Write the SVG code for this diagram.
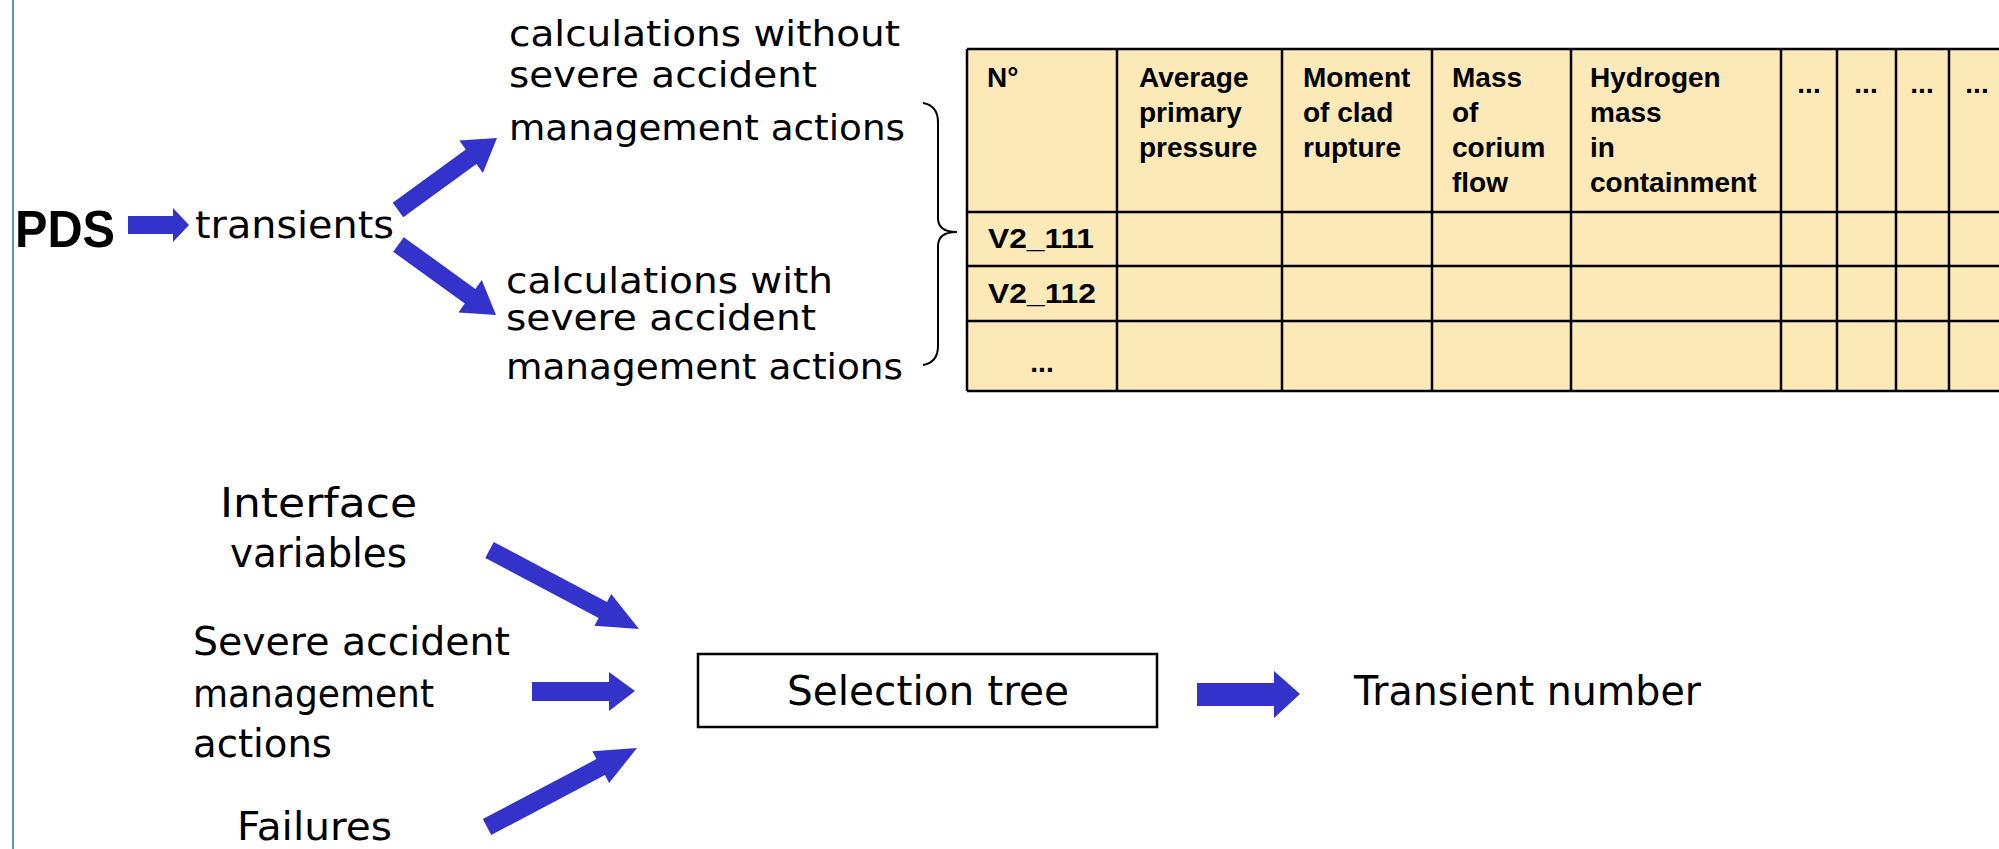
<svg xmlns="http://www.w3.org/2000/svg" width="1999" height="849" viewBox="0 0 1999 849">
<style>
.t{font-family:"DejaVu Sans","Liberation Sans",sans-serif;fill:#000;}
.tb{font-family:"Liberation Sans",Arial,sans-serif;font-weight:bold;fill:#000;}
.h{font-family:"Liberation Sans",Arial,sans-serif;font-weight:bold;font-size:28px;fill:#000;}
.arr{fill:#3333CC;stroke:none;}
.grid{stroke:#000;stroke-width:2.5;fill:none;}
</style>
<rect x="0" y="0" width="1999" height="849" fill="#fff"/>
<line x1="13" y1="0" x2="13" y2="849" stroke="#5B8DD9" stroke-width="2"/>

<g id="node-pds">
<text class="tb" x="15" y="247" font-size="52" textLength="100" lengthAdjust="spacingAndGlyphs">PDS</text>
</g>
<g id="node-transients">
<text class="t" x="195" y="238" font-size="38" textLength="199" lengthAdjust="spacingAndGlyphs">transients</text>
</g>
<g id="node-calc-without">
<text class="t" x="509" y="46" font-size="36" textLength="391" lengthAdjust="spacingAndGlyphs">calculations without</text>
<text class="t" x="509" y="87" font-size="36" textLength="308" lengthAdjust="spacingAndGlyphs">severe accident</text>
<text class="t" x="509" y="140" font-size="36" textLength="396" lengthAdjust="spacingAndGlyphs">management actions</text>
</g>
<g id="node-calc-with">
<text class="t" x="506" y="293" font-size="36" textLength="327" lengthAdjust="spacingAndGlyphs">calculations with</text>
<text class="t" x="506" y="330" font-size="36" textLength="310" lengthAdjust="spacingAndGlyphs">severe accident</text>
<text class="t" x="506" y="379" font-size="36" textLength="397" lengthAdjust="spacingAndGlyphs">management actions</text>
</g>
<g id="brace">
<path d="M923,103 C934,105 938,112 938,122 L938,218 C938,228 945,232 957,232 C945,232 938,236 938,246 L938,346 C938,356 934,363 923,365" fill="none" stroke="#000" stroke-width="2"/>
</g>

<g id="node-table">
<rect x="967" y="49" width="1045" height="342" fill="#FCE9B8"/>
<g class="grid">
<line x1="967" y1="49" x2="2012" y2="49"/>
<line x1="967" y1="212" x2="2012" y2="212"/>
<line x1="967" y1="266" x2="2012" y2="266"/>
<line x1="967" y1="321" x2="2012" y2="321"/>
<line x1="967" y1="391" x2="2012" y2="391"/>
<line x1="967" y1="49" x2="967" y2="391"/>
<line x1="1117" y1="49" x2="1117" y2="391"/>
<line x1="1282" y1="49" x2="1282" y2="391"/>
<line x1="1432" y1="49" x2="1432" y2="391"/>
<line x1="1571" y1="49" x2="1571" y2="391"/>
<line x1="1781" y1="49" x2="1781" y2="391"/>
<line x1="1837" y1="49" x2="1837" y2="391"/>
<line x1="1896" y1="49" x2="1896" y2="391"/>
<line x1="1949" y1="49" x2="1949" y2="391"/>
</g>
<text class="h" x="987" y="87">N°</text>
<text class="h" x="1139" y="87">Average</text>
<text class="h" x="1139" y="122">primary</text>
<text class="h" x="1139" y="157">pressure</text>
<text class="h" x="1303" y="87">Moment</text>
<text class="h" x="1303" y="122">of clad</text>
<text class="h" x="1303" y="157">rupture</text>
<text class="h" x="1452" y="87">Mass</text>
<text class="h" x="1452" y="122">of</text>
<text class="h" x="1452" y="157">corium</text>
<text class="h" x="1452" y="192">flow</text>
<text class="h" x="1590" y="87">Hydrogen</text>
<text class="h" x="1590" y="122">mass</text>
<text class="h" x="1590" y="157">in</text>
<text class="h" x="1590" y="192">containment</text>
<text class="h" x="1809" y="93" font-size="24" text-anchor="middle">...</text>
<text class="h" x="1866" y="93" font-size="24" text-anchor="middle">...</text>
<text class="h" x="1922" y="93" font-size="24" text-anchor="middle">...</text>
<text class="h" x="1977" y="93" font-size="24" text-anchor="middle">...</text>
<text class="h" x="988" y="248" textLength="106" lengthAdjust="spacingAndGlyphs">V2_111</text>
<text class="h" x="988" y="303" textLength="108" lengthAdjust="spacingAndGlyphs">V2_112</text>
<text class="h" x="1042" y="372" text-anchor="middle">...</text>
</g>

<g id="node-interface">
<text class="t" x="220" y="517" font-size="40" textLength="197" lengthAdjust="spacingAndGlyphs">Interface</text>
<text class="t" x="230" y="567" font-size="40" textLength="177" lengthAdjust="spacingAndGlyphs">variables</text>
</g>
<g id="node-sam">
<text class="t" x="193" y="655" font-size="39" textLength="317" lengthAdjust="spacingAndGlyphs">Severe accident</text>
<text class="t" x="193" y="707" font-size="39" textLength="241" lengthAdjust="spacingAndGlyphs">management</text>
<text class="t" x="193" y="757" font-size="39" textLength="139" lengthAdjust="spacingAndGlyphs">actions</text>
</g>
<g id="node-failures">
<text class="t" x="237" y="840" font-size="39" textLength="155" lengthAdjust="spacingAndGlyphs">Failures</text>
</g>
<g id="node-selection-tree">
<rect x="698" y="654" width="459" height="73" fill="#fff" stroke="#000" stroke-width="2.5"/>
<text class="t" x="787" y="705" font-size="40" textLength="282" lengthAdjust="spacingAndGlyphs">Selection tree</text>
</g>
<g id="node-transient-number">
<text class="t" x="1354" y="705" font-size="40" textLength="347" lengthAdjust="spacingAndGlyphs">Transient number</text>
</g>

<g id="connectors">
<polygon class="arr" points="128,216 173,216 173,208 189,225 173,242 173,234 128,234"/>
<polygon class="arr" points="392.7,202.7 465.8,149.5 459.3,140.6 497,138 482.9,173 476.4,164.1 403.3,217.3"/>
<polygon class="arr" points="403.8,237.2 475.4,288.9 481.8,280 496,315 458.4,312.4 464.8,303.5 393.2,251.8"/>
<polygon class="arr" points="493.7,542 607,601.9 611.2,594 639,629 594.4,625.8 598.6,617.9 485.3,558"/>
<polygon class="arr" points="532,682 609,682 609,672 635,691 609,711 609,701 532,701"/>
<polygon class="arr" points="482.8,819 596.5,759.1 592.3,751.2 637,748 609.1,783 604.9,775.1 491.2,835"/>
<polygon class="arr" points="1197,683 1274,683 1274,671 1300,694 1274,718 1274,706 1197,706"/>
</g>
</svg>
